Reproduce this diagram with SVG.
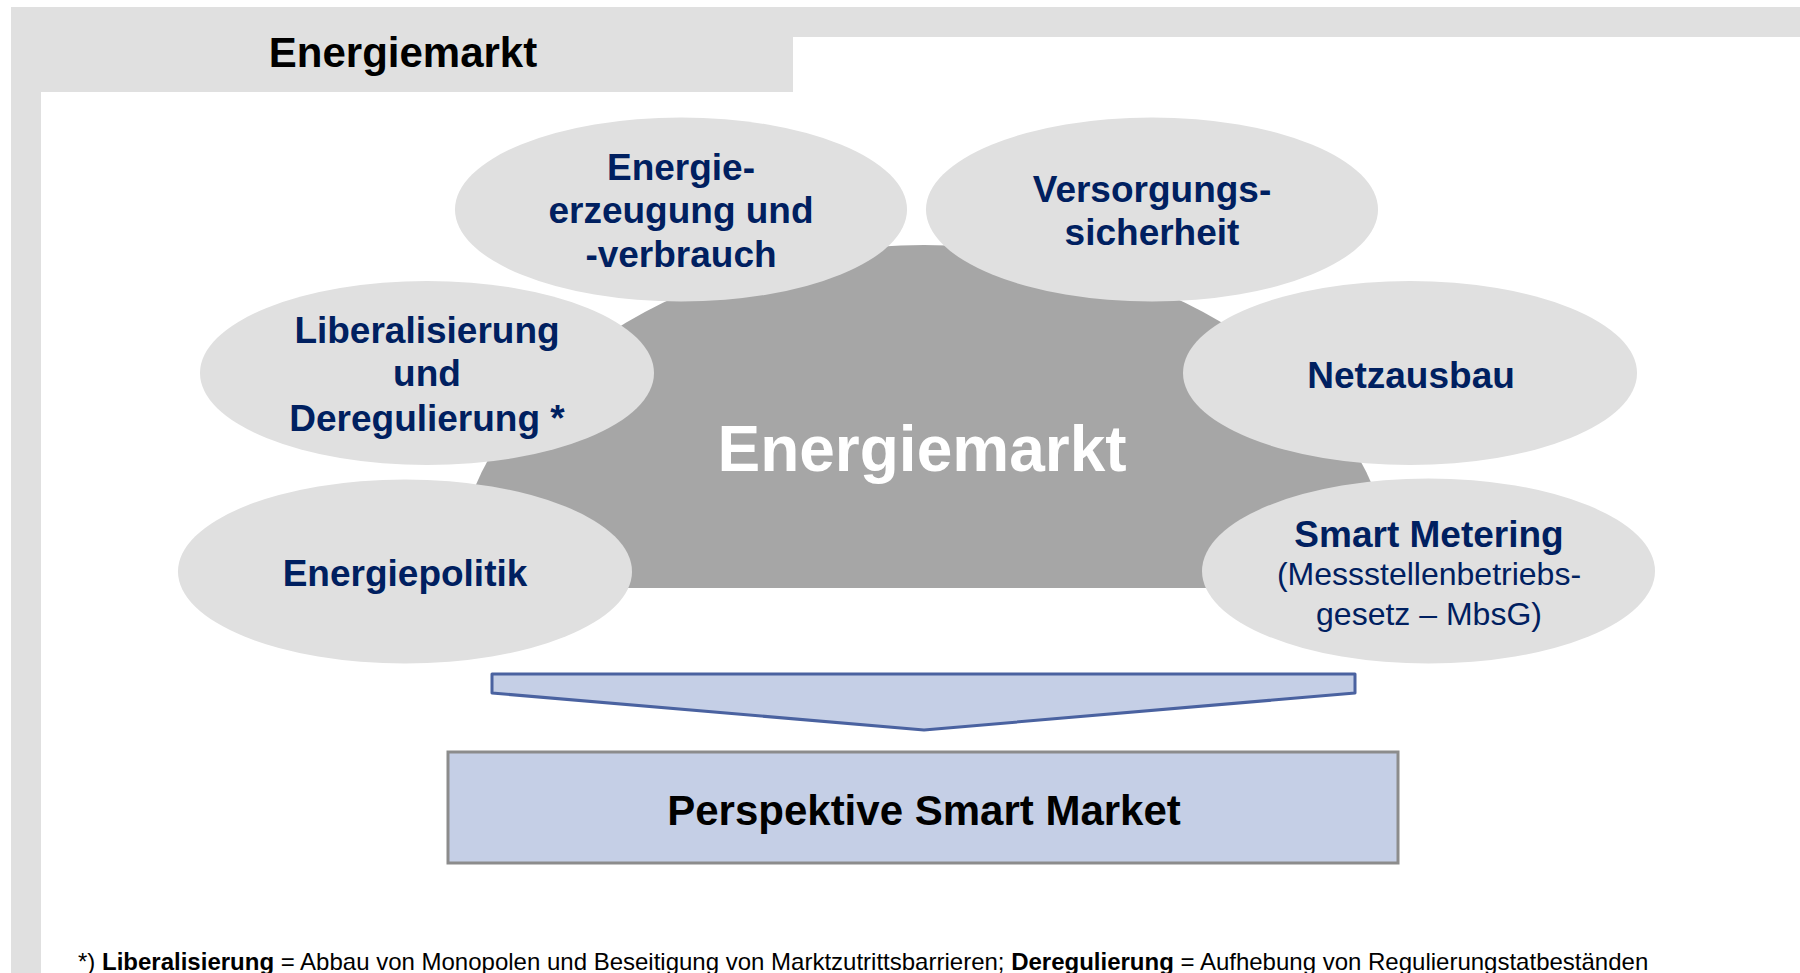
<svg xmlns="http://www.w3.org/2000/svg" width="1800" height="973" viewBox="0 0 1800 973">
<style>
.frame{fill:#e0e0e0}
.oval{fill:#e0e0e0}
.lbl{font-family:"Liberation Sans",Arial,sans-serif;font-weight:bold;font-size:37px;fill:#002060;text-anchor:middle}
.reg{font-family:"Liberation Sans",Arial,sans-serif;font-size:32px;fill:#002060;text-anchor:middle}
.foot{font-family:"Liberation Sans",Arial,sans-serif;font-size:24px;fill:#000}
</style>
<rect width="1800" height="973" fill="#ffffff"/>
<g id="frame">
<rect class="frame" x="11" y="7" width="1789" height="30"/>
<rect class="frame" x="11" y="7" width="782" height="85"/>
<rect class="frame" x="11" y="7" width="30" height="966"/>
<text x="403" y="67" font-family="Liberation Sans, Arial, sans-serif" font-weight="bold" font-size="42" fill="#000" text-anchor="middle">Energiemarkt</text>
</g>
<g id="center">
<path d="M454,588 A470,343 0 0 1 1394,588 Z" fill="#a6a6a6"/>
<text x="922" y="471" font-family="Liberation Sans, Arial, sans-serif" font-weight="bold" font-size="64" fill="#ffffff" text-anchor="middle">Energiemarkt</text>
</g>
<g id="n-erzeugung">
<ellipse class="oval" cx="681" cy="209.5" rx="226" ry="92"/>
<text class="lbl" x="681" y="180">Energie-</text>
<text class="lbl" x="681" y="223">erzeugung und</text>
<text class="lbl" x="681" y="267">-verbrauch</text>
</g>
<g id="n-versorgung">
<ellipse class="oval" cx="1152" cy="209.5" rx="226" ry="92"/>
<text class="lbl" x="1152" y="202">Versorgungs-</text>
<text class="lbl" x="1152" y="245">sicherheit</text>
</g>
<g id="n-liberalisierung">
<ellipse class="oval" cx="427" cy="373" rx="227" ry="92"/>
<text class="lbl" x="427" y="343">Liberalisierung</text>
<text class="lbl" x="427" y="386">und</text>
<text class="lbl" x="427" y="431">Deregulierung *</text>
</g>
<g id="n-netzausbau">
<ellipse class="oval" cx="1410" cy="373" rx="227" ry="92"/>
<text class="lbl" x="1411" y="388">Netzausbau</text>
</g>
<g id="n-energiepolitik">
<ellipse class="oval" cx="405" cy="571.5" rx="227" ry="92"/>
<text class="lbl" x="405" y="586">Energiepolitik</text>
</g>
<g id="n-smartmetering">
<ellipse class="oval" cx="1428.5" cy="571" rx="226.5" ry="92.5"/>
<text class="lbl" x="1429" y="547">Smart Metering</text>
<text class="reg" x="1429" y="585">(Messstellenbetriebs-</text>
<text class="reg" x="1429" y="625">gesetz – MbsG)</text>
</g>
<g id="connectors">
<path d="M492,674 L1355,674 L1355,693 L924,730 L492,693 Z" fill="#c5cfe6" stroke="#4a62a0" stroke-width="3" stroke-linejoin="round"/>
</g>
<g id="n-smartmarket">
<rect x="448" y="752" width="950" height="111" fill="#c5cfe6" stroke="#8c8c8c" stroke-width="3"/>
<text x="924" y="825" font-family="Liberation Sans, Arial, sans-serif" font-weight="bold" font-size="42" fill="#000" text-anchor="middle">Perspektive Smart Market</text>
</g>
<g id="footnote">
<text class="foot" x="78" y="970">*) <tspan font-weight="bold">Liberalisierung</tspan> = Abbau von Monopolen und Beseitigung von Marktzutrittsbarrieren; <tspan font-weight="bold">Deregulierung</tspan> = Aufhebung von Regulierungstatbeständen</text>
</g>
</svg>
